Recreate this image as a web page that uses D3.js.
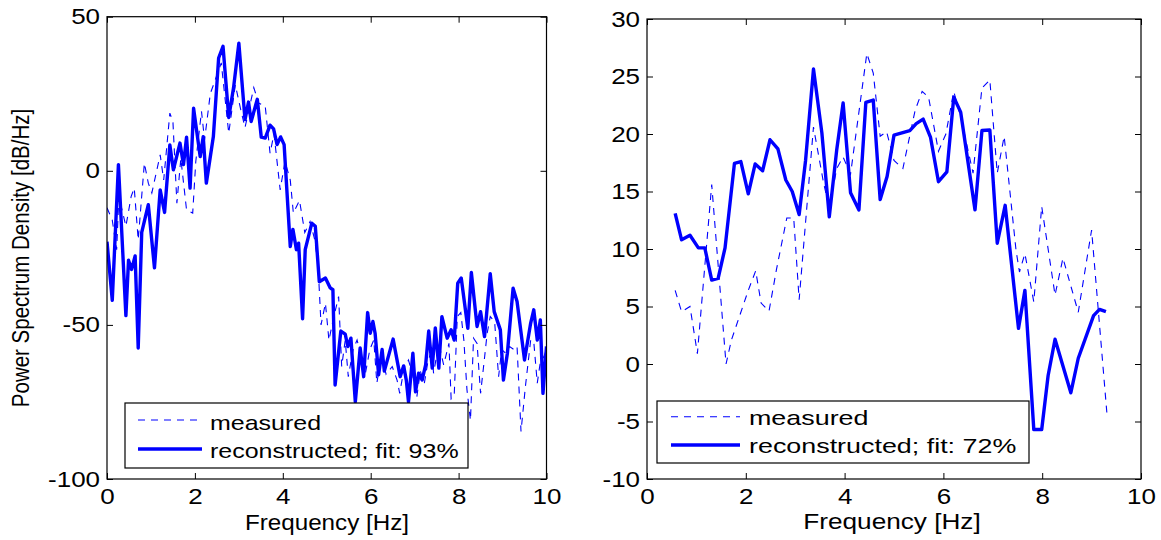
<!DOCTYPE html>
<html><head><meta charset="utf-8">
<script src="https://cdn.jsdelivr.net/npm/d3@7"></script>
<style>
body{margin:0;background:#fff}
svg{display:block}
text{font-family:"Liberation Sans",Arial,sans-serif;fill:#000}
</style>
</head><body>
<svg id="c" width="1161" height="540"></svg>
<script>
// ---------- data ----------
const xTicks = [0, 2, 4, 6, 8, 10];
const yTicksL = [-100, -50, 0, 50];
const yTicksR = [-10, -5, 0, 5, 10, 15, 20, 25, 30];
const xLabel = "Frequency [Hz]";
const yLabel = "Power Spectrum Density [dB/Hz]";
const legendL = ["measured", "reconstructed; fit: 93%"];
const legendR = ["measured", "reconstructed; fit: 72%"];

// left panel: [frequency Hz, PSD dB/Hz]
const measL = [[0,-12],[0.12,-16],[0.22,-25.6],[0.27,-8.3],[0.43,-18],[0.55,-8.3],[0.62,-5.6],[0.71,-22.4],[0.85,2.5],[0.94,-4],[1.02,-7.2],[1.10,-2],[1.21,5.2],[1.29,-3],[1.43,18.7],[1.50,16],[1.59,-10.5],[1.68,4],[1.81,-12.7],[1.95,-13.7],[2.02,3],[2.15,19.3],[2.22,10],[2.35,25],[2.49,30.6],[2.60,35],[2.77,12.2],[2.92,27.9],[3.04,20],[3.14,14],[3.34,27],[3.45,22],[3.60,21],[3.71,5.7],[3.80,12],[3.94,-6.2],[4.05,3],[4.17,-3],[4.24,-13.7],[4.38,-9.6],[4.50,-20],[4.62,-16.5],[4.72,-22],[4.80,-30],[4.87,-50],[4.97,-43],[5.05,-55],[5.15,-48],[5.27,-40.8],[5.34,-63.5],[5.42,-55],[5.49,-66.8],[5.60,-58],[5.69,-54.9],[5.78,-60],[5.88,-65.7],[5.98,-58],[6.07,-54.9],[6.14,-68.9],[6.24,-60],[6.35,-66],[6.49,-63.5],[6.60,-67.9],[6.66,-72.2],[6.76,-64],[6.86,-61.4],[6.95,-66],[7.05,-73.3],[7.13,-65],[7.22,-69],[7.30,-62],[7.39,-58],[7.43,-65.7],[7.55,-56],[7.66,-63],[7.78,-56],[7.83,-74],[7.90,-73],[7.97,-47.3],[8.05,-46],[8.12,-55],[8.19,-71],[8.27,-81],[8.34,-54.3],[8.42,-56],[8.50,-72.2],[8.58,-62],[8.65,-52.7],[8.72,-47.3],[8.82,-49],[8.91,-66.8],[8.98,-58],[9.07,-59.2],[9.16,-57],[9.26,-58],[9.33,-57],[9.42,-84.6],[9.52,-70],[9.64,-54.9],[9.71,-55.4],[9.79,-68.9],[9.86,-62],[9.94,-60.3],[10,-58]];
const recL = [[0,-23],[0.12,-42],[0.26,2],[0.43,-47],[0.49,-29],[0.56,-32],[0.64,-27.6],[0.71,-57.5],[0.79,-20],[0.94,-11],[1.08,-31.5],[1.21,-6.2],[1.31,-13.5],[1.43,8.4],[1.51,0.3],[1.66,9],[1.74,2],[1.81,10.9],[1.89,-5.6],[1.97,20.3],[2.12,4.6],[2.19,11.1],[2.26,-4],[2.42,11.1],[2.54,36.6],[2.64,40.4],[2.77,17.3],[2.88,27],[3.00,41.4],[3.14,16.6],[3.22,22.3],[3.28,16],[3.42,23.2],[3.51,10.9],[3.60,10.6],[3.71,14.8],[3.79,13.6],[3.87,8.5],[3.95,11],[4.03,8.5],[4.17,-24.6],[4.23,-19],[4.31,-25.6],[4.36,-23.5],[4.45,-48],[4.51,-25.6],[4.66,-17],[4.74,-18],[4.83,-36],[4.97,-34.8],[5.08,-38],[5.14,-38.6],[5.19,-69.5],[5.32,-52],[5.42,-53],[5.48,-57],[5.55,-54.3],[5.65,-75],[5.76,-57.5],[5.84,-66.8],[5.93,-46],[5.99,-52.7],[6.05,-48.9],[6.10,-52.7],[6.18,-66.2],[6.26,-58],[6.31,-65],[6.51,-54.6],[6.67,-66.8],[6.75,-63.3],[6.81,-67.9],[6.86,-75],[6.96,-59.2],[7.02,-71.7],[7.09,-65.7],[7.17,-67.9],[7.25,-63],[7.32,-52],[7.40,-64],[7.47,-51],[7.55,-64],[7.62,-47.3],[7.74,-54.3],[7.83,-51.6],[7.90,-54.9],[7.98,-36.5],[8.06,-34.8],[8.21,-51.1],[8.29,-33],[8.42,-50.5],[8.50,-45.7],[8.59,-53.8],[8.72,-33.4],[8.81,-45.7],[8.95,-51.6],[9.02,-67.9],[9.11,-59.2],[9.24,-38.1],[9.33,-42.4],[9.50,-61.4],[9.64,-49.4],[9.71,-45.1],[9.79,-54.9],[9.86,-48.4],[9.92,-72.2],[10,-57]];

// right panel
const measR = [[0.57,6.4],[0.70,4.55],[0.87,5],[1.02,0.9],[1.31,15.6],[1.60,0],[1.71,2.1],[2.05,6.4],[2.20,8.1],[2.31,5.3],[2.47,4.6],[2.62,8.2],[2.83,12.7],[2.97,12.7],[3.08,5.6],[3.37,20.6],[3.57,15.85],[3.69,13.5],[3.84,17],[3.97,18],[4.12,16.5],[4.45,27],[4.58,25.3],[4.72,19.8],[4.85,20.2],[5.00,17.7],[5.18,17],[5.43,22.1],[5.57,23.7],[5.70,23.2],[5.90,18.5],[6.05,20],[6.21,23.7],[6.35,21.5],[6.60,16.6],[6.78,24],[6.94,24.7],[7.09,16.6],[7.23,19.8],[7.47,9.9],[7.54,8],[7.65,9.6],[7.83,5.4],[7.99,13.7],[8.26,6],[8.42,9.2],[8.73,4.5],[9.00,11.65],[9.31,-4.3]];
const recR = [[0.57,13.1],[0.70,10.8],[0.87,11.2],[1.04,10.1],[1.17,10.1],[1.31,7.3],[1.44,7.45],[1.58,10.1],[1.77,17.45],[1.90,17.6],[2.05,14.8],[2.19,17.4],[2.34,16.8],[2.49,19.5],[2.65,18.7],[2.81,16],[2.94,15],[3.08,13],[3.21,17.7],[3.37,25.65],[3.54,20.1],[3.69,12.8],[3.84,18.6],[3.97,22.7],[4.12,14.9],[4.29,13.4],[4.43,22.75],[4.58,22.95],[4.72,14.3],[4.86,16.3],[5.00,19.9],[5.32,20.3],[5.45,20.9],[5.59,21.3],[5.74,19.7],[5.90,15.85],[6.07,16.7],[6.21,23.2],[6.35,21.9],[6.64,13.4],[6.78,20.3],[6.94,20.35],[7.09,10.5],[7.25,13.8],[7.52,3.1],[7.65,6.4],[7.83,-5.7],[7.99,-5.7],[8.12,-1],[8.26,2.15],[8.58,-2.5],[8.73,0.5],[9.04,4.2],[9.16,4.75],[9.29,4.55]];

// ---------- drawing ----------
const svg = d3.select("#c");
const BLUE = "#0000ff";

function stretch(sel, sx){
  sel.attr("transform", function(){
    const x = +this.getAttribute("x") || 0, y = +this.getAttribute("y") || 0;
    return `translate(${x},${y}) scale(${sx},1) translate(${-x},${-y})`;
  });
}

function panel(cfg, id){
  const x = d3.scaleLinear().domain([0,10]).range([cfg.x0, cfg.x1]);
  const y = d3.scaleLinear().domain(cfg.yDomain).range([cfg.y1, cfg.y0]);
  const g = svg.append("g");

  g.append("clipPath").attr("id","clip"+id).append("rect")
    .attr("x",cfg.x0).attr("y",cfg.y0).attr("width",cfg.x1-cfg.x0).attr("height",cfg.y1-cfg.y0);

  const plot = g.append("g").attr("clip-path",`url(#clip${id})`);
  const line = d3.line().x(d=>x(d[0])).y(d=>y(d[1]));
  plot.append("path").datum(cfg.meas).attr("d",line).attr("fill","none")
    .attr("stroke",BLUE).attr("stroke-width",1.1).attr("stroke-dasharray","7,6");
  plot.append("path").datum(cfg.rec).attr("d",line).attr("fill","none")
    .attr("stroke",BLUE).attr("stroke-width",3.4).attr("stroke-linejoin","round");

  const fmt = d => String(d);
  const tk = 6;
  const ax = (a, tr, fmtF) => {
    const s = g.append("g").attr("transform",tr).call(a.tickFormat(fmtF).tickSizeInner(-tk).tickSizeOuter(0));
    s.select(".domain").remove();
    s.selectAll("line").attr("stroke","#000");
    s.selectAll("text").attr("font-size",22).attr("font-family",'"Liberation Sans",Arial,sans-serif').attr("fill","#000");
    return s;
  };
  const b = ax(d3.axisBottom(x).tickValues(xTicks).tickPadding(9), `translate(0,${cfg.y1})`, fmt);
  stretch(b.selectAll("text"), cfg.sxTick);
  ax(d3.axisTop(x).tickValues(xTicks), `translate(0,${cfg.y0})`, "");
  const l = ax(d3.axisLeft(y).tickValues(cfg.yTicks).tickPadding(7), `translate(${cfg.x0},0)`, fmt);
  stretch(l.selectAll("text"), cfg.sxTick);
  ax(d3.axisRight(y).tickValues(cfg.yTicks), `translate(${cfg.x1},0)`, "");

  g.append("rect").attr("x",cfg.x0).attr("y",cfg.y0).attr("width",cfg.x1-cfg.x0).attr("height",cfg.y1-cfg.y0)
    .attr("fill","none").attr("stroke","#000").attr("stroke-width",1.2);

  // x label
  const xl = g.append("text").attr("x",cfg.xLabelX).attr("y",cfg.xLabelY)
    .attr("text-anchor","middle").attr("font-size",22).text(xLabel);
  stretch(xl, cfg.sxLabel);

  // legend
  const L = cfg.leg;
  g.append("rect").attr("x",L.x).attr("y",L.y).attr("width",L.w).attr("height",L.h)
    .attr("fill","#fff").attr("stroke","#000").attr("stroke-width",1.2);
  const rows = [
    {dash:"7,6", w:1.1, txt:cfg.legend[0], ly:L.l1, ty:L.t1},
    {dash:null,  w:3.4, txt:cfg.legend[1], ly:L.l2, ty:L.t2}
  ];
  rows.forEach(r=>{
    g.append("line").attr("x1",L.sx0).attr("x2",L.sx1).attr("y1",r.ly).attr("y2",r.ly)
      .attr("stroke",BLUE).attr("stroke-width",r.w).attr("stroke-dasharray",r.dash);
    const t = g.append("text").attr("x",L.tx).attr("y",r.ty).attr("font-size",21).text(r.txt);
    stretch(t, L.sx);
  });
}

panel({x0:107, x1:546.5, y0:16.7, y1:479, yDomain:[-100,50], yTicks:yTicksL,
  meas:measL, rec:recL, legend:legendL, xLabelX:327, xLabelY:530, sxTick:1.18, sxLabel:1.1,
  leg:{x:125, y:403, w:343, h:65, sx0:138, sx1:202, tx:210, l1:420, l2:449, t1:430, t2:458, sx:1.19}}, "L");
panel({x0:647, x1:1141, y0:19, y1:479, yDomain:[-10,30], yTicks:yTicksR,
  meas:measR, rec:recR, legend:legendR, xLabelX:892, xLabelY:529, sxTick:1.18, sxLabel:1.19,
  leg:{x:657, y:401, w:372, h:62, sx0:671, sx1:740, tx:749, l1:416.7, l2:445, t1:425, t2:453, sx:1.28}}, "R");

// y label (left panel)
svg.append("text").attr("font-size",20.5).attr("text-anchor","middle")
  .attr("transform",`translate(29,258) scale(1.18,1) rotate(-90)`).text(yLabel);
</script>
</body></html>
